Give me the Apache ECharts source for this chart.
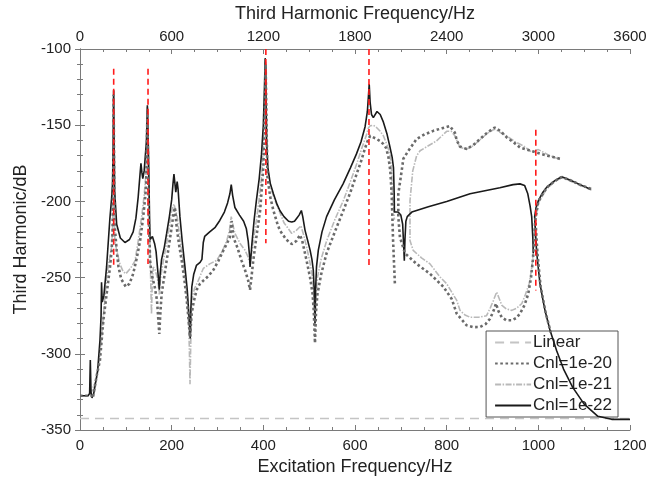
<!DOCTYPE html>
<html>
<head>
<meta charset="utf-8">
<script src="https://cdn.jsdelivr.net/npm/echarts@6/dist/echarts.min.js"></script>
<style>
  html, body { margin: 0; padding: 0; background: #fff; }
  #chart { width: 651px; height: 482px; }
</style>
</head>
<body>
<div id="chart"></div>
<script>
// tick labels
const bottomTicks = [0, 200, 400, 600, 800, 1000, 1200]
const topTicks = [0, 600, 1200, 1800, 2400, 3000, 3600]
const dbTicks = [-350, -300, -250, -200, -150, -100]

const seriesNames = ['Linear', 'Cnl=1e-20', 'Cnl=1e-21', 'Cnl=1e-22']

// [Hz, dB], null = gap between solution branches
const linearPoints = [[0, -342.5], [1200, -342.5]]

const cnl20Points = [
    [0, -327.5], [25, -327.5], [28, -329], [31, -324], [36, -315], [43.6, -304], [51, -278], [58, -261],
    [65.5, -243], [69, -232], [71, -221], [72.5, -180], [73.4, -130], [74.5, -185], [76, -217], [80, -232],
    [84, -243], [90, -251], [100, -256], [108, -254], [116, -247.5], [124, -237], [131, -226], [138, -210],
    [142, -198], [144, -191], [145.5, -172], [147, -142], [148.5, -175], [150, -210], [153, -239], [156, -247.5],
    [163, -256], [168, -265], [171, -278], [173, -287], [175, -275], [178, -261], [184, -249], [189, -239],
    [195, -227], [200, -217], [204, -208], [207, -204], [211, -217], [216, -228], [222, -239], [228, -252],
    [233, -265], [237, -278], [240, -289], [243.6, -274], [248, -266], [254.5, -258], [262, -254], [269, -252],
    [280, -249], [291, -245], [302, -239], [313, -232], [320, -228], [327, -223.5], [331, -213], [334.5, -223.5],
    [343, -230], [352.7, -239], [360, -245], [367, -252], [371, -258], [374, -250], [378, -239], [385, -223],
    [393, -206], [400, -178], [403, -145], [405, -110], [407, -150], [409, -184], [415, -197], [422, -206],
    [430, -214], [436, -219], [450, -225], [462, -228], [472, -226], [480, -222], [485, -226], [494.5, -239],
    [502, -250], [507.6, -261], [510, -272], [512.7, -293], [515, -272], [518, -261], [526, -248], [538, -234],
    [556, -220], [574.5, -206], [590, -194], [603.6, -182], [614, -173], [622, -165], [628, -160], [633, -157],
    [640, -158], [647, -159], [655, -160.5], [662, -162.4], [668, -165], [673, -171], [677, -180], [680, -195],
    [683, -225], [687, -254],
    null,
    [1047, -172], [1020, -170], [996, -168], [980, -166.5], [960, -164.6], [945, -161], [931, -158], [918, -154],
    [905, -151.5], [890, -154.5], [873, -159], [858, -163], [843.6, -165.6], [829, -164], [822, -160], [818, -155],
    [807, -150.5], [790, -152], [771, -153.7], [752, -156], [734.5, -159], [716, -167], [705.5, -172], [701.8, -180],
    [694.5, -195], [694.5, -210], [698, -223.5], [709, -234], [734.5, -241], [763.6, -247.5], [792.7, -256],
    [811, -264], [822, -273.7], [843.6, -281.3], [858, -282.5], [873, -282.4], [885, -280.5], [894.6, -277],
    [902, -272], [907.7, -267], [913, -272], [920, -276], [930, -278], [942, -278], [952, -276.5], [960, -273.7],
    [970, -268], [978, -260.6], [984, -250], [988, -238.7], [991, -225], [993, -213], [1000, -200], [1018, -191],
    [1036, -186.5], [1051, -184], [1069, -186], [1091, -189], [1116, -192],
    null,
    [994, -214], [998, -234], [1005, -256], [1016, -273], [1027, -286]
]

const cnl21Points = [
    [0, -327.5], [20, -327.5], [25, -325], [30, -321], [36, -317], [42, -304], [47, -289], [53, -268], [58, -250],
    [64, -238], [69, -230], [71.5, -215], [73.4, -127], [75, -205], [76, -226], [80, -232], [87, -241], [94, -246],
    [100, -247.5], [110, -244], [120, -239], [127, -226], [134.5, -210], [140, -196], [144, -182], [145.5, -165],
    [147, -138], [148.5, -170], [150.5, -205], [152.7, -230], [154.5, -255], [156, -274], [157.5, -255], [160, -243],
    [164, -245], [168.7, -250], [171, -255], [173, -261], [176, -250], [181.8, -239], [190, -226], [200, -206],
    [205, -201.7], [212, -210], [218, -224], [225, -239], [231, -254], [236, -274], [238.5, -295], [240, -320],
    [241.5, -295], [243.6, -265], [250, -257], [258, -252], [269, -244], [283, -241], [298, -238.7], [310, -233],
    [320, -226], [326, -219], [330, -210], [334, -216], [338, -221], [350, -228], [360, -232], [366, -236],
    [371, -241], [375, -233], [378, -226], [386, -210], [391, -198], [396, -184], [400, -165], [403, -135],
    [405, -108], [407, -145], [409, -180], [418, -193], [429, -202], [445, -214], [462, -221], [472, -219],
    [482, -216], [488, -222], [494.5, -230], [501, -239], [507.6, -250], [510, -262], [512.7, -282], [515, -262],
    [518, -250], [526, -238], [538, -226], [556, -212], [574.5, -199.5], [590, -187], [603.6, -175.5], [615, -165],
    [625.5, -156], [629, -152], [633, -150.4], [640, -150], [647, -151.5], [655, -154], [662, -157], [670, -163],
    [676.4, -169], [679.5, -178], [682, -195], [686, -212],
    null,
    [1047, -172.5], [1025, -170], [1000, -166], [985, -167.5], [967, -163.5], [950, -161], [931, -157], [918, -155],
    [905, -152.5], [890, -155], [873, -159.5], [858, -163.5], [843.6, -165.6], [829, -164.6], [818, -157],
    [810, -154], [800, -154], [778, -160.3], [760, -163.5], [742, -166.8], [734.5, -170], [726, -180], [720, -199.5],
    [720, -225.7], [727, -232.2], [745, -237], [763.6, -241], [785.5, -249.6], [800, -254], [811, -259.5],
    [822, -265], [829, -271.5], [840, -274.5], [851, -276], [870, -276], [887, -275], [895, -270], [902, -265],
    [909, -259.5], [915, -264], [920, -268], [930, -270.5], [942, -271.5], [953, -270], [964, -267], [972, -261],
    [980, -254], [985, -245], [989, -234.4], [992, -220], [995, -210], [1000, -201], [1018, -192], [1036, -187],
    [1051, -184.5], [1069, -186.5], [1091, -189.5], [1116, -192.5]
]

const cnl22Points = [
    [0, -327.5], [18, -327.5], [21, -326], [22.5, -304], [24, -325], [26, -329], [30, -326], [38.5, -311],
    [43.6, -291], [46, -275], [47, -253], [48.5, -266], [52, -262], [58, -243], [65, -212], [69, -198], [71, -188],
    [72.5, -160], [73.4, -127], [74.5, -160], [75.6, -193], [80, -215], [88, -224], [98, -227], [108, -225],
    [116, -220], [122, -211], [127, -197], [131, -182], [133, -175], [135, -181], [137, -185], [140, -180],
    [142, -172], [145, -160], [147, -137], [148.5, -155], [150, -178], [152, -215], [153, -225], [158, -223],
    [163, -228], [166, -233], [171, -250], [173, -258], [175, -247], [178, -238], [184, -230], [189, -221],
    [195, -210], [200, -199], [203, -188], [205, -182], [207, -188], [209, -194], [212, -187], [214, -192],
    [218, -210], [223, -226], [229, -243], [234, -258], [238, -276], [240.5, -290], [242, -270], [244, -256],
    [248, -248], [254, -242], [262, -240], [266, -238], [269, -227], [272, -223], [283, -220], [295, -217],
    [305, -212.5], [315, -207], [322, -201], [327, -195], [330, -189], [333, -196], [338, -204], [348, -209],
    [357, -213], [363, -218], [367, -226], [370, -236], [371, -243], [373, -236], [375, -228], [380, -212],
    [385, -199], [391, -185], [396, -169], [400, -150], [402.5, -125], [404, -106], [405.5, -120], [407, -160],
    [410, -178], [415, -188], [422, -195], [430, -202], [436, -206], [445, -210], [455, -213], [462, -213.5],
    [468, -213], [473, -211], [478, -209], [483, -206], [486, -210], [491, -219], [497, -226], [502, -232],
    [506, -238], [509, -245], [511, -258], [512.7, -280], [514, -258], [516, -243], [520, -232], [528, -220],
    [538, -210], [555, -199], [574, -188.5], [590, -178], [603, -169], [613, -161], [622, -151], [627, -141],
    [629.5, -130], [631, -123], [633, -135], [636, -143], [640, -145], [644, -144], [648, -141], [651, -140.5],
    [655, -143], [662, -148], [670, -156], [676, -164], [681, -171], [684, -178], [685.5, -195], [686, -207],
    [694, -207], [700, -209], [704, -215], [706, -228], [707.6, -239], [709, -225], [711, -213], [714, -210],
    [724, -207], [760, -203.5], [800, -200], [851, -195], [916, -191], [945, -189], [960, -188.5], [970, -189.5],
    [977, -195], [982, -203], [985.5, -210], [988, -224], [989, -234],
    null,
    [1200, -343], [1160, -343], [1130, -341], [1100, -333], [1075, -322], [1055, -310], [1040, -298],
    [1025.5, -284.6], [1020, -278], [1014.5, -271.5], [1009, -263], [1003.6, -254], [1000, -244], [996, -232],
    [993, -216], [992, -210], [995, -204], [1000, -199.5], [1010, -194], [1018, -190.8], [1036, -186.4],
    [1051, -183.8], [1069, -186], [1091, -189], [1114, -192]
]

// red dashed markers: Hz, top dB, bottom dB
const resonanceHz = [73.5, 148.4, 405.5, 630.5, 994.5]
const resonanceTop = [-113, -113, -100, -100, -153]
const resonanceBottom = [-244, -241, -227.4, -242, -258.4]

const chart = echarts.init(document.getElementById('chart'))

const fontFamily = 'Liberation Sans, Arial, sans-serif'
const textColor = '#222'
const frameColor = '#7a7a7a'

function toData(points) {
    return points.map(p => (p === null ? ['-', '-'] : p))
}

function plainLabel(v) {
    return String(v)
}

function frameAxis(extra) {
    return Object.assign({
        type: 'value',
        axisLine: { show: true, lineStyle: { color: frameColor, width: 1 } },
        axisTick: { show: true, inside: true, length: 5, lineStyle: { color: frameColor } },
        minorTick: { show: true, length: 3, lineStyle: { color: frameColor } },
        splitLine: { show: false },
        nameTextStyle: { color: textColor, fontSize: 18, fontFamily: fontFamily }
    }, extra)
}

function lineSeries(name, points, color, width, type, z) {
    return {
        name: name,
        type: 'line',
        data: toData(points),
        xAxisIndex: 0,
        yAxisIndex: 0,
        symbol: 'none',
        connectNulls: false,
        z: z,
        lineStyle: { color: color, width: width, type: type },
        itemStyle: { color: color },
        emphasis: { disabled: true }
    }
}

const series = [
    lineSeries(seriesNames[0], linearPoints, '#c4c4c4', 1.5, [9, 6], 2),
    lineSeries(seriesNames[2], cnl21Points, '#b9b9b9', 1.6, [6, 1.5, 1.5, 1.5], 3),
    lineSeries(seriesNames[3], cnl22Points, '#1a1a1a', 1.6, 'solid', 4),
    lineSeries(seriesNames[1], cnl20Points, '#6a6a6a', 2.6, [2.6, 2.6], 5)
]

resonanceHz.forEach((hz, i) => {
    series.push({
        type: 'line',
        data: [[hz, resonanceTop[i]], [hz, resonanceBottom[i]]],
        symbol: 'none',
        silent: true,
        z: 6,
        lineStyle: { color: '#ff1a1a', width: 1.6, type: [6, 4] }
    })
})

chart.setOption({
    animation: false,
    backgroundColor: '#fff',
    textStyle: { fontFamily: fontFamily },
    grid: { left: 80, right: 21, top: 48, bottom: 52, containLabel: false },
    legend: {
        data: seriesNames.map(n => ({ name: n, itemStyle: { opacity: 0 } })),
        orient: 'vertical',
        right: 33,
        top: 331,
        itemWidth: 36,
        itemHeight: 12,
        itemGap: 4,
        padding: [3, 6, 3, 8],
        backgroundColor: '#fff',
        borderColor: '#555',
        borderWidth: 1,
        borderRadius: 0,
        textStyle: { color: textColor, fontSize: 17, fontFamily: fontFamily, padding: [0, 0, 0, -3] }
    },
    xAxis: [
        frameAxis({
            position: 'bottom',
            min: bottomTicks[0],
            max: bottomTicks[bottomTicks.length - 1],
            interval: bottomTicks[1] - bottomTicks[0],
            minorTick: { show: true, splitNumber: 4, length: 3, lineStyle: { color: frameColor } },
            axisLabel: { color: textColor, fontSize: 15, fontFamily: fontFamily, margin: 8, formatter: plainLabel },
            name: 'Excitation Frequency/Hz',
            nameLocation: 'middle',
            nameGap: 28
        }),
        frameAxis({
            position: 'top',
            min: topTicks[0],
            max: topTicks[topTicks.length - 1],
            interval: topTicks[1] - topTicks[0],
            minorTick: { show: true, splitNumber: 4, length: 3, lineStyle: { color: frameColor } },
            axisLabel: { color: textColor, fontSize: 15, fontFamily: fontFamily, margin: 5, formatter: plainLabel },
            name: 'Third Harmonic Frequency/Hz',
            nameLocation: 'middle',
            nameGap: 26
        })
    ],
    yAxis: [
        frameAxis({
            position: 'left',
            min: dbTicks[0],
            max: dbTicks[dbTicks.length - 1],
            interval: dbTicks[1] - dbTicks[0],
            minorTick: { show: true, splitNumber: 5, length: 3, lineStyle: { color: frameColor } },
            axisLabel: { color: textColor, fontSize: 15, fontFamily: fontFamily, margin: 9, formatter: plainLabel },
            name: 'Third Harmonic/dB',
            nameLocation: 'middle',
            nameGap: 50
        }),
        frameAxis({
            position: 'right',
            min: dbTicks[0],
            max: dbTicks[dbTicks.length - 1],
            interval: dbTicks[1] - dbTicks[0],
            minorTick: { show: true, splitNumber: 5, length: 3, lineStyle: { color: frameColor } },
            axisLabel: { show: false }
        })
    ],
    series: series
})
</script>
</body>
</html>
